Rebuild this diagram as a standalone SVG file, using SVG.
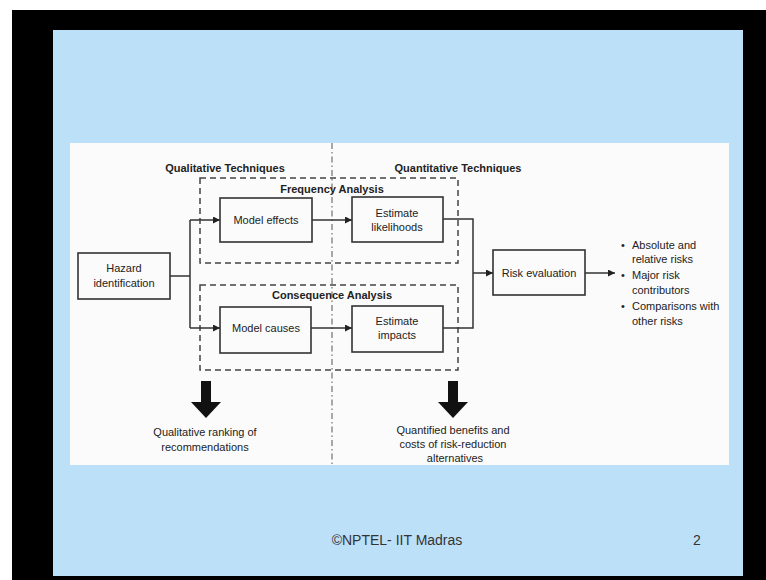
<svg xmlns="http://www.w3.org/2000/svg" width="766" height="580" viewBox="0 0 766 580">
<defs>
<marker id="ah" viewBox="0 0 10 10" refX="10" refY="5" markerWidth="9" markerHeight="7" markerUnits="userSpaceOnUse" orient="auto">
<path d="M0,0 L10,5 L0,10 z" fill="#222"/>
</marker>
<style>
.box{fill:none;stroke:#333;stroke-width:1.6}
.dbox{fill:none;stroke:#444;stroke-width:1.5;stroke-dasharray:6 4}
.ln{fill:none;stroke:#333;stroke-width:1.5}
.t{font-family:"Liberation Sans",Arial,sans-serif;font-size:11px;fill:#222;text-anchor:middle}
.h{font-family:"Liberation Sans",Arial,sans-serif;font-size:11px;font-weight:bold;fill:#222;text-anchor:middle}
.b{font-family:"Liberation Sans",Arial,sans-serif;font-size:11px;fill:#222}
.big{fill:#111}
.ft{font-family:"Liberation Sans",Arial,sans-serif;font-size:14px;fill:#333;text-anchor:middle}
</style>
</defs>
<rect x="0" y="0" width="766" height="580" fill="#ffffff"/>
<rect x="12" y="10" width="754" height="570" fill="#000000"/>
<rect x="53" y="30" width="690" height="546" fill="#bde0f9"/>
<rect x="70" y="143" width="659" height="322" fill="#fbfbfb"/>

<line x1="332" y1="143" x2="332" y2="465" stroke="#555" stroke-width="1" stroke-dasharray="6 3 1.5 3"/>

<text class="h" x="225" y="172">Qualitative Techniques</text>
<text class="h" x="458" y="172">Quantitative Techniques</text>

<g id="frequency-analysis">
<rect class="dbox" x="200" y="178" width="258" height="85"/>
<text class="h" x="332" y="193">Frequency Analysis</text>
</g>
<g id="consequence-analysis">
<rect class="dbox" x="200" y="285" width="258" height="85"/>
<text class="h" x="332" y="299">Consequence Analysis</text>
</g>

<g id="hazard-identification">
<rect class="box" x="78" y="253" width="92" height="46" fill="#fbfbfb"/>
<text class="t" x="124" y="272">Hazard</text>
<text class="t" x="124" y="287">identification</text>
</g>
<g id="model-effects">
<rect class="box" x="220" y="198" width="92" height="44"/>
<text class="t" x="266" y="224">Model effects</text>
</g>
<g id="estimate-likelihoods">
<rect class="box" x="352" y="197" width="91" height="45"/>
<text class="t" x="397" y="217">Estimate</text>
<text class="t" x="397" y="231">likelihoods</text>
</g>
<g id="model-causes">
<rect class="box" x="220" y="307" width="91" height="46"/>
<text class="t" x="266" y="332">Model causes</text>
</g>
<g id="estimate-impacts">
<rect class="box" x="352" y="306" width="91" height="46"/>
<text class="t" x="397" y="325">Estimate</text>
<text class="t" x="397" y="339">impacts</text>
</g>
<g id="risk-evaluation">
<rect class="box" x="493" y="250" width="92" height="45"/>
<text class="t" x="539" y="277">Risk evaluation</text>
</g>
<g id="risk-outputs">
<text class="b" x="621" y="249">•</text><text class="b" x="632" y="249">Absolute and</text>
<text class="b" x="632" y="263">relative risks</text>
<text class="b" x="621" y="279">•</text><text class="b" x="632" y="279">Major risk</text>
<text class="b" x="632" y="294">contributors</text>
<text class="b" x="621" y="310">•</text><text class="b" x="632" y="310">Comparisons with</text>
<text class="b" x="632" y="325">other risks</text>
</g>
<g id="qualitative-output">
<path class="big" d="M201,381 H211 V402 H221 L206,418 L191,402 H201 Z"/>
<text class="t" x="205" y="436">Qualitative ranking of</text>
<text class="t" x="205" y="451">recommendations</text>
</g>
<g id="quantitative-output">
<path class="big" d="M448,381 H458 V402 H468 L453,418 L438,402 H448 Z"/>
<text class="t" x="453" y="434">Quantified benefits and</text>
<text class="t" x="453" y="448">costs of risk-reduction</text>
<text class="t" x="455" y="462">alternatives</text>
</g>

<g id="connectors">
<polyline class="ln" points="170,276 190,276"/>
<polyline class="ln" points="190,220 190,328"/>
<line class="ln" x1="190" y1="220" x2="220" y2="220" marker-end="url(#ah)"/>
<line class="ln" x1="190" y1="328" x2="220" y2="328" marker-end="url(#ah)"/>
<line class="ln" x1="312" y1="220" x2="352" y2="220" marker-end="url(#ah)"/>
<line class="ln" x1="311" y1="328" x2="352" y2="328" marker-end="url(#ah)"/>
<polyline class="ln" points="443,219 473,219 473,328 443,328"/>
<line class="ln" x1="473" y1="273" x2="493" y2="273" marker-end="url(#ah)"/>
<line class="ln" x1="585" y1="273" x2="615" y2="273" marker-end="url(#ah)"/>
</g>

<text class="ft" x="397" y="545">©NPTEL- IIT Madras</text>
<text class="ft" x="697" y="545">2</text>
</svg>
